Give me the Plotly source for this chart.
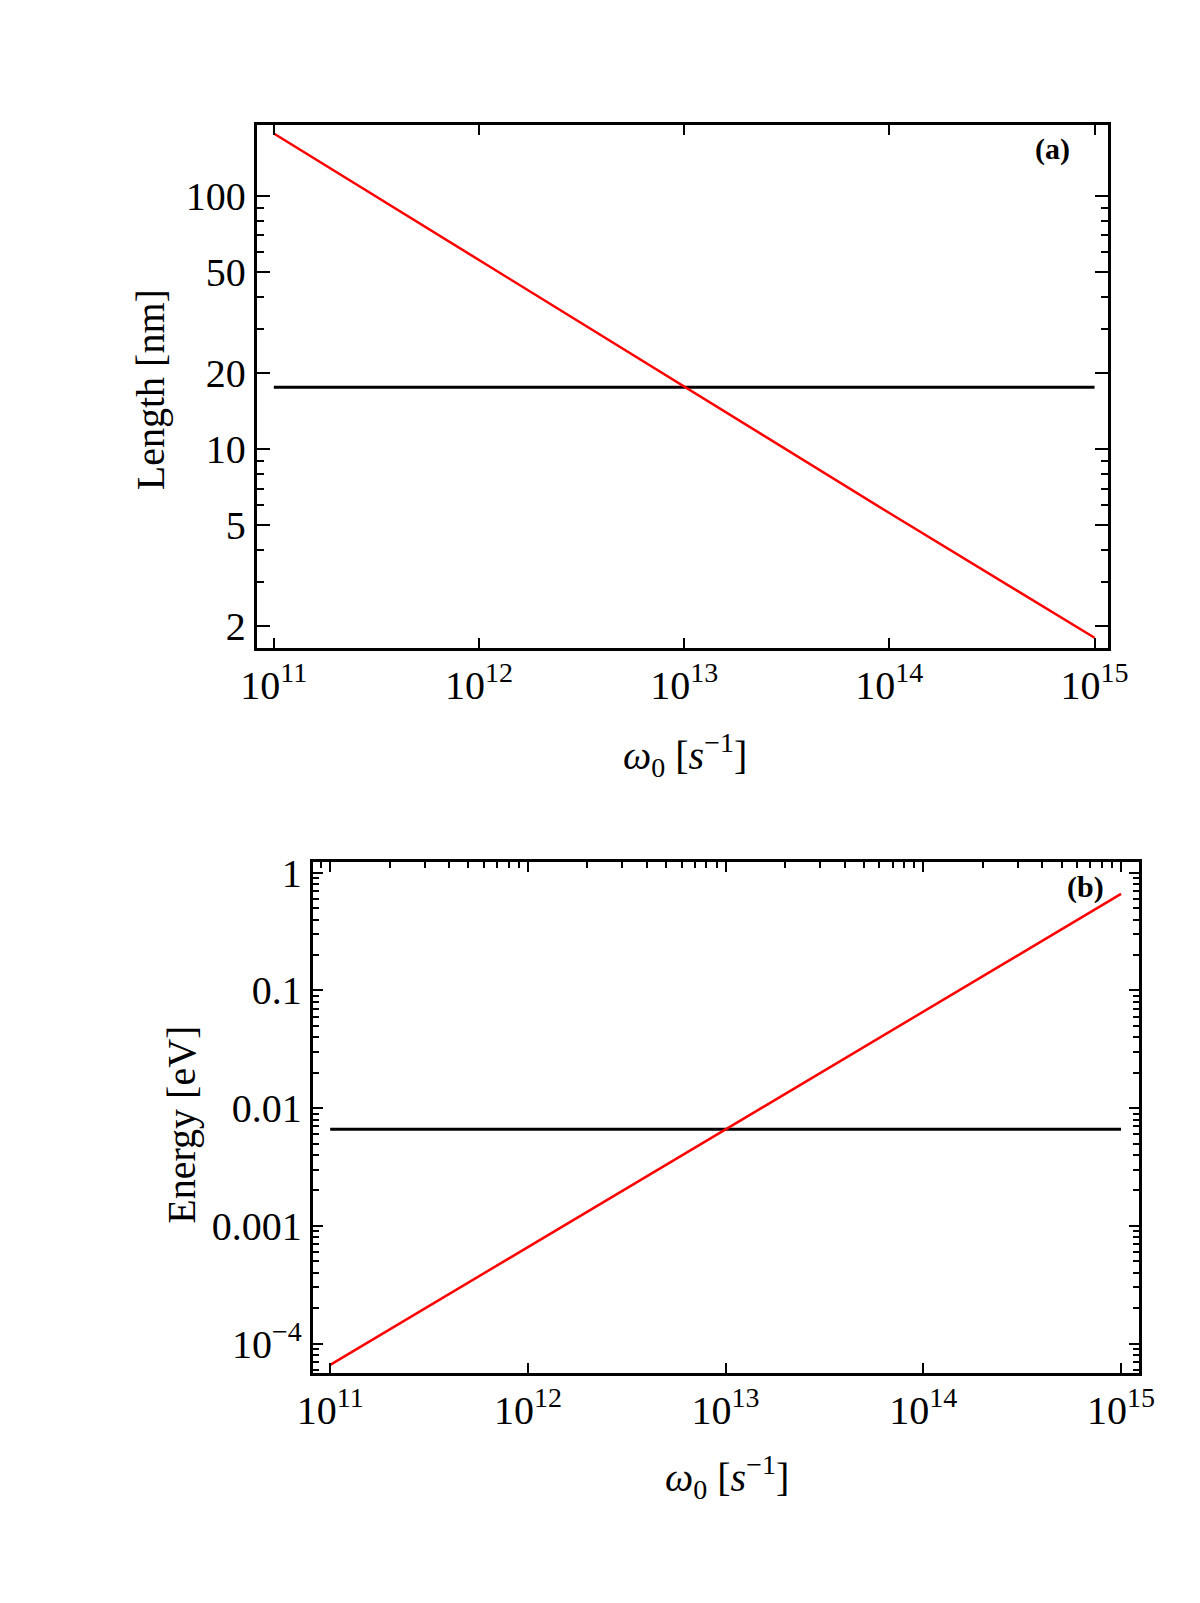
import plotly.graph_objects as go

# panel (a): length vs omega_0
omega = [1e11, 1e12, 1e13, 1e14, 1e15]
length_nm = [177, 56, 17.8, 5.6, 1.8]
length_ref_x = [1e11, 1e15]
length_ref_y = [17.6, 17.6]

# panel (b): energy vs omega_0
energy_ev = [6.6e-5, 6.6e-4, 6.6e-3, 6.6e-2, 0.66]
energy_ref_x = [1e11, 1e15]
energy_ref_y = [0.0066, 0.0066]

x_ticks = [1e11, 1e12, 1e13, 1e14, 1e15]
x_ticktext = ['10<sup>11</sup>', '10<sup>12</sup>', '10<sup>13</sup>',
              '10<sup>14</sup>', '10<sup>15</sup>']
len_ticks = [2, 5, 10, 20, 50, 100]
len_ticktext = ['2', '5', '10', '20', '50', '100']
len_minor = [3, 4, 6, 7, 8, 9, 30, 40, 60, 70, 80, 90]
en_ticks = [1e-4, 1e-3, 1e-2, 1e-1, 1]
en_ticktext = ['10<sup>\u22124</sup>', '0.001', '0.01', '0.1', '1']
en_minor = [m * 10.0 ** e for e in range(-5, 1) for m in range(2, 10)]
x_minor = [m * 10.0 ** e for e in range(10, 16) for m in range(2, 10)]

FONT = 'Liberation Serif'
RED = '#ff0000'

fig = go.Figure()
fig.add_trace(go.Scatter(x=length_ref_x, y=length_ref_y, mode='lines',
                         line=dict(color='black', width=3), xaxis='x', yaxis='y'))
fig.add_trace(go.Scatter(x=omega, y=length_nm, mode='lines',
                         line=dict(color=RED, width=2.5), xaxis='x', yaxis='y'))
fig.add_trace(go.Scatter(x=energy_ref_x, y=energy_ref_y, mode='lines',
                         line=dict(color='black', width=3), xaxis='x2', yaxis='y2'))
fig.add_trace(go.Scatter(x=omega, y=energy_ev, mode='lines',
                         line=dict(color=RED, width=2.5), xaxis='x2', yaxis='y2'))

common = dict(type='log', showgrid=False, zeroline=False, showline=True,
              linecolor='black', linewidth=3, ticks='inside', tickcolor='black',
              tickfont=dict(family=FONT, size=40, color='black'))

fig.update_layout(
    width=1200, height=1603,
    margin=dict(l=0, r=0, t=0, b=0),
    paper_bgcolor='white', plot_bgcolor='white',
    showlegend=False,
    xaxis=dict(common, domain=[0.2, 0.9317], anchor='y', range=[10.917, 15.068],
               mirror='ticks', tickvals=x_ticks, ticktext=x_ticktext,
               ticklen=10, tickwidth=2),
    yaxis=dict(common, domain=[0.6045, 0.9333], anchor='x', range=[0.214, 2.281],
               mirror='ticks', tickvals=len_ticks, ticktext=len_ticktext,
               ticklen=13, tickwidth=2,
               minor=dict(ticks='inside', tickvals=len_minor, ticklen=7,
                          tickwidth=2, tickcolor='black', showgrid=False)),
    xaxis2=dict(common, domain=[0.2481, 0.9581], anchor='y2', range=[10.912, 15.092],
                mirror=True, tickvals=x_ticks, ticktext=x_ticktext,
                ticklen=10, tickwidth=2),
    xaxis3=dict(type='log', overlaying='x2', side='top', anchor='y2',
                range=[10.912, 15.092], showgrid=False, zeroline=False,
                showline=False, showticklabels=False, ticks='inside',
                tickvals=x_ticks, ticklen=10, tickwidth=2, tickcolor='black',
                minor=dict(ticks='inside', tickvals=x_minor, ticklen=6,
                           tickwidth=2, tickcolor='black', showgrid=False)),
    yaxis2=dict(common, domain=[0.1491, 0.4704], anchor='x2', range=[-4.248, 0.094],
                mirror='ticks', tickvals=en_ticks, ticktext=en_ticktext,
                ticklen=10, tickwidth=2,
                minor=dict(ticks='inside', tickvals=en_minor, ticklen=6,
                           tickwidth=2, tickcolor='black', showgrid=False)),
)

# invisible trace so the top axis of panel (b) is drawn
fig.add_trace(go.Scatter(x=[1e12], y=[1e-2], mode='markers', marker=dict(opacity=0),
                         xaxis='x3', yaxis='y2', hoverinfo='skip'))

title_font = dict(family=FONT, size=40, color='black')
omega_title = '<i>\u03c9</i><sub>0</sub> [<i>s</i><sup>\u22121</sup>]'
labels = [
    dict(text='Length [nm]', x=0.1083, y=0.7667, textangle=-90, font=title_font),
    dict(text=omega_title, x=0.5675, y=0.5371, font=title_font),
    dict(text='Energy [eV]', x=0.135, y=0.3051, textangle=-90, font=title_font),
    dict(text=omega_title, x=0.6042, y=0.0836, font=title_font),
    dict(text='<b>(a)</b>', x=0.8835, y=0.9184,
         font=dict(family=FONT, size=30, color='black')),
    dict(text='<b>(b)</b>', x=0.9123, y=0.4542,
         font=dict(family=FONT, size=30, color='black')),
]
for a in labels:
    fig.add_annotation(xref='paper', yref='paper', showarrow=False,
                       xanchor='center', yanchor='middle', **a)

fig.write_html('out.html')
